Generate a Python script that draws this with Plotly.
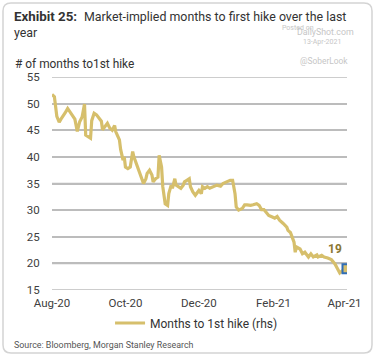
import plotly.graph_objects as go

# ---- data ----
dates = [
    "2020-08-01", "2020-08-03", "2020-08-05", "2020-08-07", "2020-08-09", "2020-08-10",
    "2020-08-12", "2020-08-14", "2020-08-17", "2020-08-19", "2020-08-20", "2020-08-22",
    "2020-08-24", "2020-08-26", "2020-08-28", "2020-08-29", "2020-08-31", "2020-09-02",
    "2020-09-03", "2020-09-05", "2020-09-07", "2020-09-09", "2020-09-11", "2020-09-12",
    "2020-09-14", "2020-09-16", "2020-09-18", "2020-09-20", "2020-09-22", "2020-09-23",
    "2020-09-26", "2020-09-27", "2020-09-29", "2020-09-30", "2020-10-01", "2020-10-03",
    "2020-10-05", "2020-10-07", "2020-10-08", "2020-10-10", "2020-10-11", "2020-10-13",
    "2020-10-16", "2020-10-18", "2020-10-19", "2020-10-21", "2020-10-23", "2020-10-24",
    "2020-10-26", "2020-10-28", "2020-10-29", "2020-10-31", "2020-11-01", "2020-11-03",
    "2020-11-05", "2020-11-06", "2020-11-08", "2020-11-09", "2020-11-11", "2020-11-12",
    "2020-11-14", "2020-11-16", "2020-11-18", "2020-11-19", "2020-11-21", "2020-11-23",
    "2020-11-24", "2020-11-26", "2020-11-28", "2020-11-30", "2020-12-01", "2020-12-03",
    "2020-12-04", "2020-12-06", "2020-12-08", "2020-12-10", "2020-12-13", "2020-12-16",
    "2020-12-19", "2020-12-21", "2020-12-24", "2020-12-27", "2020-12-29", "2020-12-31",
    "2021-01-01", "2021-01-03", "2021-01-06", "2021-01-08", "2021-01-10", "2021-01-13",
    "2021-01-15", "2021-01-18", "2021-01-20", "2021-01-22", "2021-01-24", "2021-01-26",
    "2021-01-28", "2021-01-31", "2021-02-02", "2021-02-04", "2021-02-06", "2021-02-09",
    "2021-02-12", "2021-02-13", "2021-02-15", "2021-02-17", "2021-02-18", "2021-02-19",
    "2021-02-20", "2021-02-23", "2021-02-25", "2021-02-27", "2021-03-02", "2021-03-04",
    "2021-03-06", "2021-03-09", "2021-03-10", "2021-03-13", "2021-03-15", "2021-03-18",
    "2021-03-21", "2021-03-24", "2021-03-26", "2021-03-28", "2021-03-30", "2021-04-03",
]
months_to_hike = [
    51.7, 51.3, 47.6, 46.5, 47.3, 47.6,
    48.3, 49.1, 48.2, 47.6, 47.1, 44.8,
    46.6, 47.5, 49.9, 44.1, 43.8, 43.5,
    46.8, 48.2, 47.9, 47.4, 46.7, 45.1,
    45.7, 46.3, 45.4, 45.0, 45.9, 44.7,
    43.2, 41.4, 39.4, 40.0, 38.1, 37.8,
    38.1, 41.0, 40.0, 38.8, 38.1, 36.9,
    35.0, 35.9, 36.9, 37.5, 36.6, 35.3,
    35.9, 36.2, 40.3, 38.1, 34.4, 31.2,
    30.9, 33.1, 34.7, 34.1, 35.9, 34.7,
    34.4, 34.1, 34.7, 35.3, 35.6, 35.9,
    34.4, 33.4, 32.8, 33.4, 33.7, 33.1,
    34.4, 34.1, 34.4, 34.1, 34.4, 34.7,
    34.5, 35.0, 35.3, 35.6, 35.6, 33.1,
    30.6, 30.0, 30.3, 31.0, 31.0, 30.9,
    31.0, 31.2, 30.9, 30.1, 30.1, 29.6,
    29.0, 28.7, 28.5, 28.8, 28.1, 27.5,
    26.8, 26.2, 25.8, 24.6, 24.0, 22.1,
    23.1, 22.7, 21.8, 22.1, 21.2, 21.8,
    21.2, 21.6, 21.2, 21.5, 21.2, 21.0,
    20.7, 19.9, 18.9, 18.2, 18.6, 19.0,
]
last_label = "19"
x_range = ["2020-08-01", "2021-04-03"]
tick_dates = ["2020-08-01", "2020-10-01", "2020-12-01", "2021-02-01", "2021-04-01"]
tick_text = ["Aug-20", "Oct-20", "Dec-20", "Feb-21", "Apr-21"]
y_ticks = [15, 20, 25, 30, 35, 40, 45, 50, 55]
series_name = "Months to 1st hike (rhs)"

# ---- layout geometry ----
W, H = 376, 358
L, R, T, B = 52, 29, 77, 68
PW, PH = W - L - R, H - T - B

def px(x):
    return (x - L) / PW

def py(y):
    return (H - B - y) / PH

GOLD = "#D6BF6C"
FONT = "Roboto"
WM = "#c6c6c6"
GRID = "#bcbcbc"

fig = go.Figure()

# horizontal gridlines at the y tick values (background trace, plus axis grid)
grid_x, grid_y = [], []
for v in y_ticks:
    grid_x += [x_range[0], x_range[1], None]
    grid_y += [v, v, None]
fig.add_trace(go.Scatter(
    x=grid_x, y=grid_y, mode="lines", showlegend=False, hoverinfo="skip",
    line=dict(color=GRID, width=1.5), cliponaxis=False, connectgaps=False,
))

fig.add_trace(go.Scatter(
    x=dates, y=months_to_hike, mode="lines", name=series_name,
    line=dict(color=GOLD, width=3.2), showlegend=True,
))
fig.add_trace(go.Scatter(
    x=[dates[-1]], y=[months_to_hike[-1]], mode="markers", showlegend=False,
    marker=dict(symbol="square", size=9, color=GOLD,
                line=dict(color="#2F6DB5", width=2)),
))

def label(text, x, y, size, color, xanchor="left", **kw):
    return dict(text=text, x=px(x), y=py(y), xref="paper", yref="paper",
                xanchor=xanchor, yanchor="middle", showarrow=False,
                font=dict(family=FONT, size=size, color=color), **kw)

annotations = [
    label("Posted on", 298, 28, 7, WM, xanchor="center"),
    label("DailyShot.com", 325, 32, 8.8, WM, xanchor="center"),
    label("13-Apr-2021", 322, 42, 7, WM, xanchor="center"),
    label("@SoberLook", 324, 61, 8.4, WM, xanchor="center"),
    label("<b>Exhibit 25:</b>", 12, 16, 13.3, "#333333"),
    label("Market-implied months to first hike over the last", 82, 16, 12.4, "#333333"),
    label("year", 12, 33, 12.4, "#333333"),
    label("# of months to1st hike", 13, 64, 11.9, "#333333"),
    label("Source: Bloomberg, Morgan Stanley Research", 12, 345, 8.9, "#555555"),
    dict(text="<b>" + last_label + "</b>", x=dates[-1], y=months_to_hike[-1], xref="x", yref="y",
         xshift=-12, yshift=20, showarrow=False,
         font=dict(family=FONT, size=12, color="#8A7632")),
]

r = 8
x0, x1, y0, y1 = 3, 372, 3, 353
def P(x, y):
    return f"{px(x):.5f},{py(y):.5f}"
card = (f"M{P(x0 + r, y0)} L{P(x1 - r, y0)} Q{P(x1, y0)} {P(x1, y0 + r)} "
        f"L{P(x1, y1 - r)} Q{P(x1, y1)} {P(x1 - r, y1)} L{P(x0 + r, y1)} "
        f"Q{P(x0, y1)} {P(x0, y1 - r)} L{P(x0, y0 + r)} Q{P(x0, y0)} {P(x0 + r, y0)} Z")

fig.update_layout(
    width=W, height=H,
    margin=dict(l=L, r=R, t=T, b=B),
    paper_bgcolor="white", plot_bgcolor="rgba(0,0,0,0)",
    font=dict(family=FONT, size=12, color="#404040"),
    annotations=annotations,
    shapes=[dict(type="path", path=card, xref="paper", yref="paper",
                 line=dict(color="#d4d4d4", width=1.5), fillcolor="rgba(0,0,0,0)",
                 layer="above")],
    legend=dict(orientation="h", x=0.49, y=py(323), xanchor="center", yanchor="middle",
                font=dict(family=FONT, size=12, color="#333333"),
                itemwidth=30, bgcolor="rgba(0,0,0,0)", tracegroupgap=0),
    xaxis=dict(type="date", range=x_range,
               tickvals=tick_dates, ticktext=tick_text, showgrid=False,
               zeroline=False, showline=False, ticks="outside", ticklen=2,
               tickcolor="rgba(0,0,0,0)", tickfont=dict(size=11.5, color="#404040")),
    yaxis=dict(range=[15, 55], tickvals=y_ticks, showgrid=True, gridcolor=GRID,
               gridwidth=1.5, zeroline=False, showline=False, ticks="outside", ticklen=9,
               tickcolor="rgba(0,0,0,0)", tickfont=dict(size=11.5, color="#404040")),
)

fig.write_html("out.html", config={"displayModeBar": False},
               post_script="document.body.style.margin='0';")
